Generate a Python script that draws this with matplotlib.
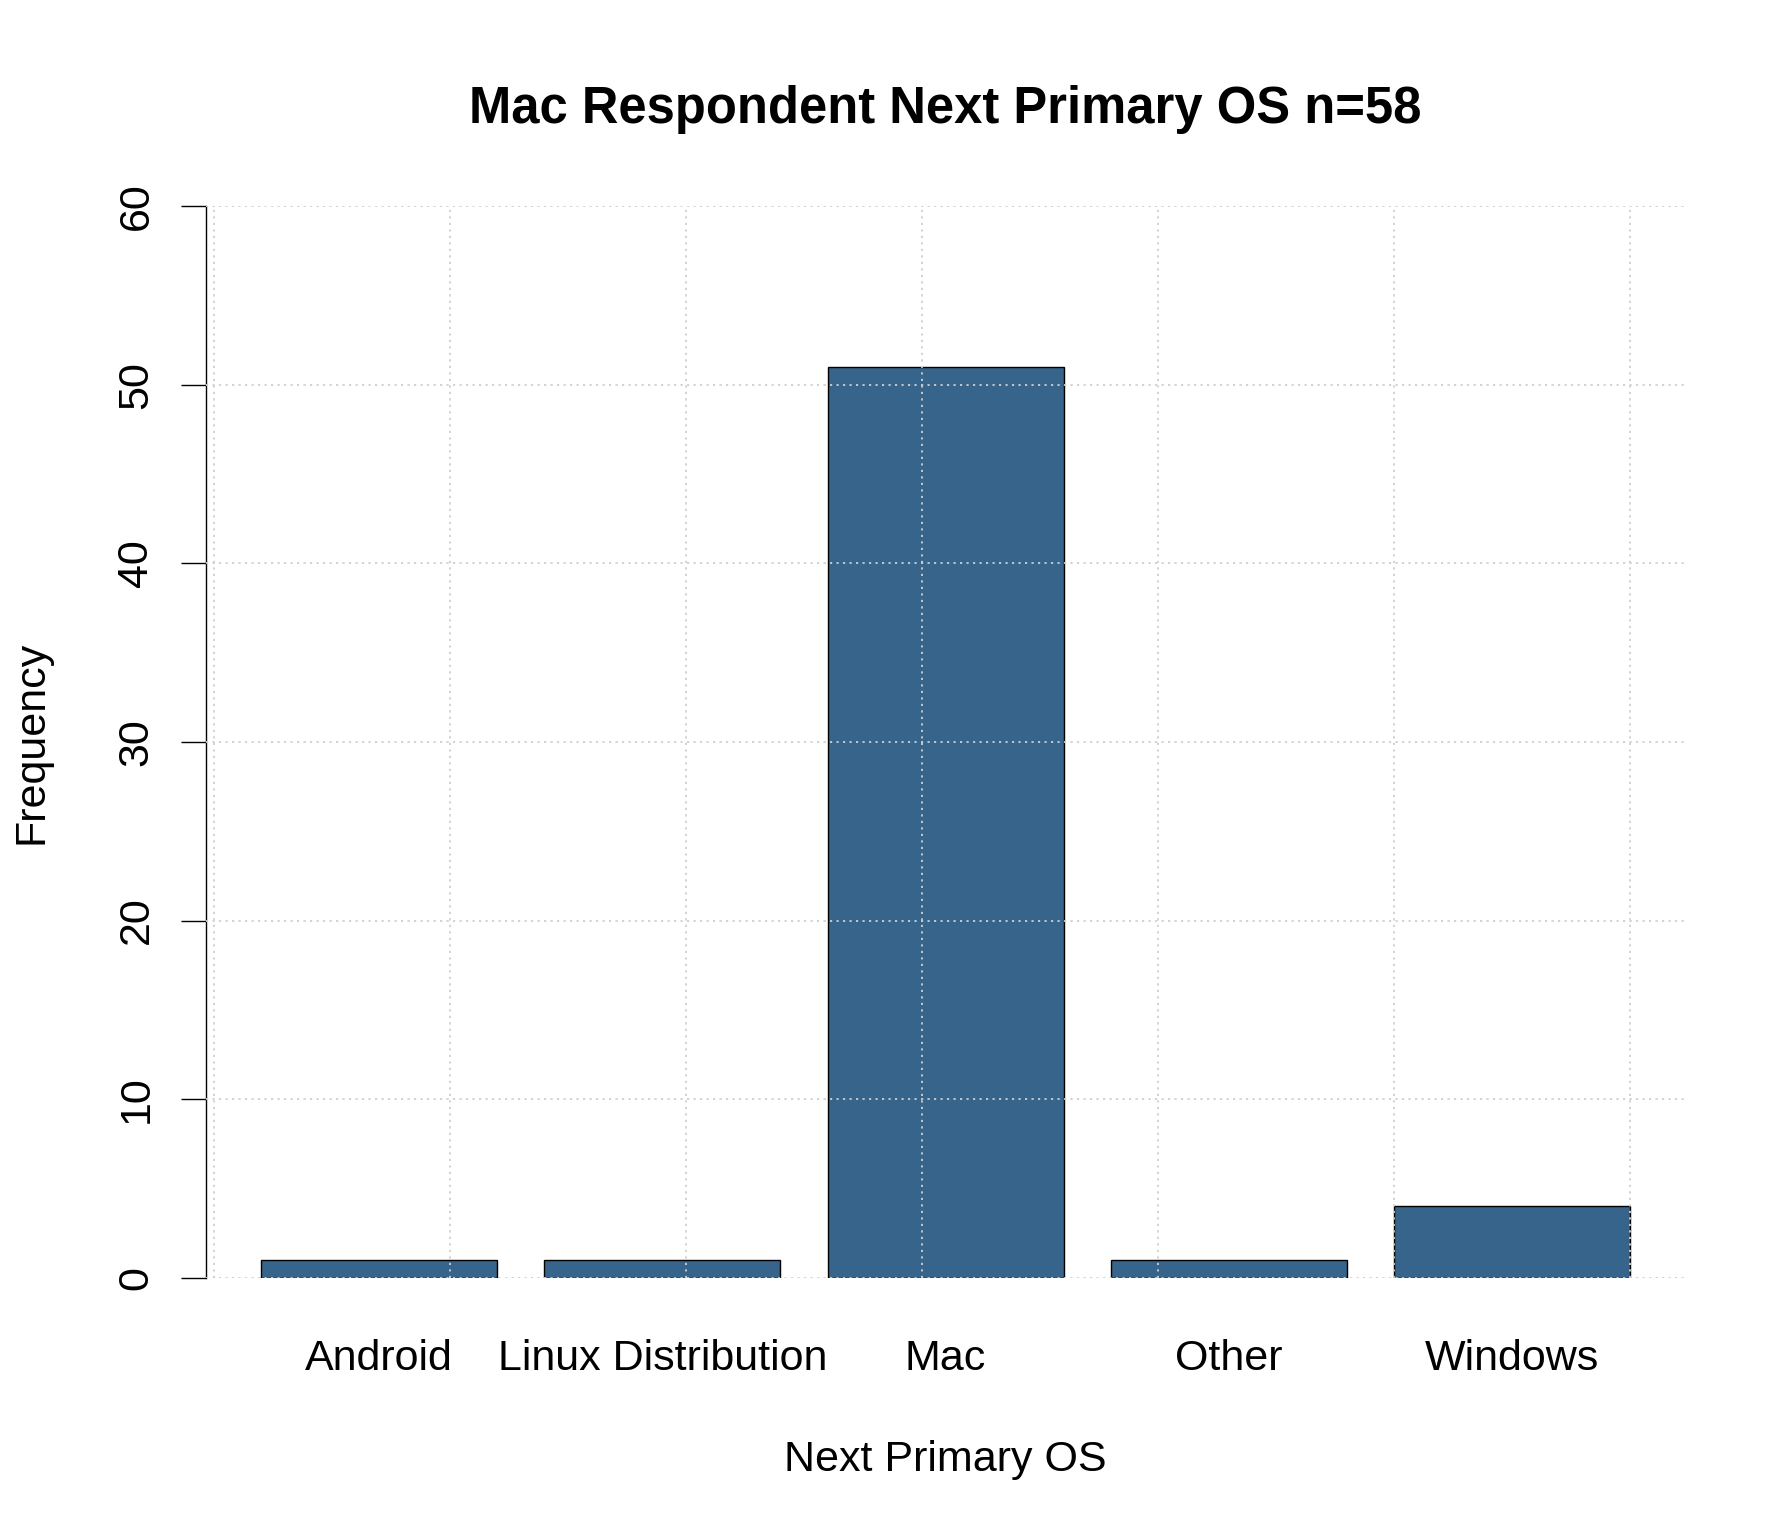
import matplotlib
matplotlib.use('Agg')
import matplotlib.pyplot as plt
import numpy as np

plt.rcParams['font.family'] = ['Liberation Sans', 'DejaVu Sans']

categories = ['Android', 'Linux Distribution', 'Mac', 'Other', 'Windows']
counts = [1, 1, 51, 1, 4]
yticks = [0, 10, 20, 30, 40, 50, 60]

# R barplot layout: width 1, space 0.2
centers = 0.7 + 1.2 * np.arange(len(categories))

fig = plt.figure(figsize=(17.92, 15.36), dpi=100)
ax = fig.add_axes([0.1152, 0.1682, 0.825, 0.6975])

ax.bar(centers, counts, width=1.0, color='#36648B', edgecolor='black', linewidth=1.0, zorder=2)

ax.set_xlim(-0.032, 6.232)
ax.set_ylim(0, 60)

# grid on top of the bars, like grid() after barplot()
grid_style = dict(color='#CFCFCF', linestyle=(0, (1.2, 2.4)), linewidth=1.3, zorder=3)
for gx in range(0, 7):
    ax.axvline(gx, **grid_style)
for gy in yticks:
    ax.axhline(gy, **grid_style)

for s in ['top', 'right', 'bottom']:
    ax.spines[s].set_visible(False)
ax.spines['left'].set_linewidth(1.0)

ax.set_yticks(yticks)
ax.set_yticklabels([str(v) for v in yticks], rotation=90, va='center', fontsize=31)
ax.tick_params(axis='y', length=18, width=1.0, pad=18)

ax.set_xticks(centers)
ax.set_xticklabels(categories, fontsize=31)
ax.tick_params(axis='x', length=0, pad=44)

ax.set_xlabel('Next Primary OS', fontsize=31, va='baseline')
ax.xaxis.set_label_coords(0.5, -0.1805)
ax.set_ylabel('Frequency', fontsize=31, ha='center', va='center')
ax.yaxis.set_label_coords(-0.118, 0.5)

fig.text(945.6 / 1792, 1 - 123.4 / 1536, 'Mac Respondent Next Primary OS n=58',
         ha='center', va='baseline', fontsize=36.5, fontweight='bold')

fig.savefig('out.png', dpi=100)
